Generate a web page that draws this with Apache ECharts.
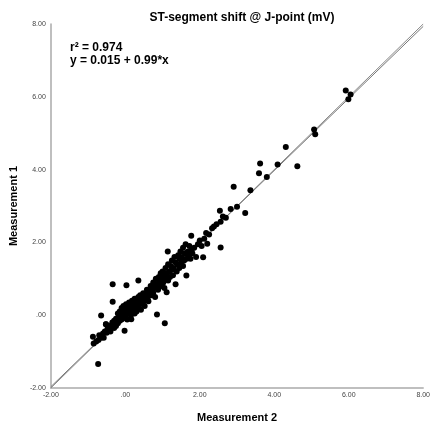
<!DOCTYPE html>
<html>
<head>
<meta charset="utf-8">
<script src="https://cdn.jsdelivr.net/npm/echarts@6/dist/echarts.min.js"></script>
<style>html,body{margin:0;padding:0;background:#fff}#c{width:433px;height:428px}</style>
</head>
<body>
<div id="c"></div>
<script>
const measurement2 = [
 -0.85,-0.78,-0.72,-0.70,-0.65,-0.60,-0.58,-0.55,-0.52,-0.50,-0.48,-0.45,-0.42,-0.40,-0.38,-0.35,-0.33,-0.30,-0.30,-0.28,
 -0.25,-0.25,-0.22,-0.20,-0.20,-0.18,-0.15,-0.15,-0.12,-0.10,-0.10,-0.08,-0.05,-0.05,-0.02,0.00,0.00,0.02,0.03,0.05,
 0.05,0.08,0.10,0.10,0.12,0.15,0.15,0.18,0.20,0.20,0.22,0.25,0.25,0.28,0.30,0.30,0.32,0.35,0.35,0.38,
 0.40,0.40,0.42,0.45,0.48,0.50,0.50,0.52,0.55,0.58,0.60,0.60,0.62,0.65,0.68,0.70,0.72,0.75,0.75,0.78,
 0.80,0.80,0.82,0.85,0.88,0.90,0.90,0.92,0.95,0.95,0.98,1.00,1.00,1.02,1.05,1.05,1.08,1.10,1.12,1.15,
 1.15,1.18,1.20,1.22,1.25,1.25,1.28,1.30,1.32,1.35,1.38,1.40,1.42,1.45,1.45,1.48,1.50,1.52,1.55,1.55,
 1.58,1.60,1.62,1.65,1.68,1.70,1.72,1.75,1.78,1.80,1.85,1.90,1.95,2.00,2.05,
 -0.34,0.03,0.35,-0.34,-0.65,-0.02,-0.73,-0.87,0.85,1.06,1.11,1.35,1.64,2.09,2.56,1.14,1.77,0.16,-0.52,
 2.20,2.17,2.33,2.38,2.56,2.62,2.83,2.54,3.22,2.91,3.36,3.80,3.59,3.62,4.09,4.62,4.31,5.07,5.10,5.92,6.05,5.99,
 2.12,2.25,2.45,2.70,3.00
];
const measurement1 = [
 -0.78,-0.72,-0.68,-0.55,-0.62,-0.50,-0.62,-0.45,-0.25,-0.48,-0.38,-0.42,-0.30,-0.45,-0.35,-0.20,-0.28,-0.35,-0.15,-0.25,
 -0.10,-0.30,-0.18,0.05,-0.22,-0.08,-0.15,0.10,-0.02,-0.12,0.20,0.05,-0.05,0.25,0.10,-0.08,0.15,0.30,0.02,0.12,
 -0.12,0.20,0.05,0.35,0.15,0.00,0.25,0.40,0.12,0.22,0.30,0.05,0.45,0.20,0.35,0.10,0.28,0.50,0.22,0.38,
 0.30,0.55,0.15,0.45,0.60,0.38,0.50,0.25,0.55,0.70,0.45,0.60,0.38,0.65,0.80,0.55,0.70,0.90,0.62,0.75,
 0.85,0.50,1.00,0.80,0.70,0.90,1.05,0.78,1.15,0.95,0.85,1.00,1.20,0.90,1.10,0.75,1.30,1.00,1.15,0.95,
 1.40,1.20,1.05,1.35,1.25,1.50,1.10,1.30,1.60,1.45,1.20,1.40,1.65,1.30,1.55,1.75,1.45,1.60,1.35,1.85,
 1.50,1.70,1.95,1.55,1.75,1.65,1.90,1.55,1.80,1.70,1.85,1.60,1.95,2.05,1.90,
 0.85,0.82,0.95,0.37,-0.01,-0.43,-1.34,-0.59,0.02,-0.22,0.63,0.85,1.09,1.59,1.86,1.75,2.18,-0.11,-0.25,
 1.96,2.26,2.39,2.44,2.57,2.71,2.92,2.87,2.81,3.53,3.43,3.80,3.90,4.17,4.14,4.09,4.62,5.10,4.97,6.17,6.06,5.93,
 2.10,2.22,2.50,2.68,2.98
];
const fitIntercept = 0.015;
const fitSlope = 0.99;
const lineX = [-2, 8];
const axisMin = -2, axisMax = 8, axisStep = 2;

const points = measurement2.map((x, i) => [x, measurement1[i]]);
const identityLine = lineX.map(x => [x, x]);
const fitLine = lineX.map(x => [x, fitIntercept + fitSlope * x]);
const fmt = v => (v === 0 ? '.00' : v.toFixed(2));
const FONT = 'Liberation Sans, Arial, sans-serif';

const chart = echarts.init(document.getElementById('c'));
chart.setOption({
  animation: false,
  grid: { left: 49, right: 6, top: 24, bottom: 30 },
  title: {
    text: 'ST-segment shift @ J-point (mV)',
    left: 237, top: 7, textAlign: 'center',
    textStyle: { fontFamily: FONT, fontSize: 12, fontWeight: 'bold', color: '#000' }
  },
  graphic: [
    { type: 'text', left: 70, top: 42, style: { text: 'r² = 0.974', font: 'bold 12px "Liberation Sans", Arial, sans-serif', fill: '#000' } },
    { type: 'text', left: 70, top: 55, style: { text: 'y = 0.015 + 0.99*x', font: 'bold 12px "Liberation Sans", Arial, sans-serif', fill: '#000' } }
  ],
  xAxis: {
    type: 'value', min: axisMin, max: axisMax, interval: axisStep,
    name: 'Measurement 2', nameLocation: 'middle', nameGap: 24,
    nameTextStyle: { fontFamily: FONT, fontSize: 11, fontWeight: 'bold', color: '#000' },
    axisLine: { show: true, onZero: false, lineStyle: { color: '#aaa', width: 1.5 } },
    axisTick: { show: false }, splitLine: { show: false },
    axisLabel: { formatter: fmt, fontSize: 7, color: '#444', margin: 4, fontFamily: FONT }
  },
  yAxis: {
    type: 'value', min: axisMin, max: axisMax, interval: axisStep,
    name: 'Measurement 1', nameLocation: 'middle', nameGap: 23, nameRotate: 90,
    nameTextStyle: { fontFamily: FONT, fontSize: 11, fontWeight: 'bold', color: '#000' },
    axisLine: { show: true, onZero: false, lineStyle: { color: '#aaa', width: 1.5 } },
    axisTick: { show: false }, splitLine: { show: false },
    axisLabel: { formatter: fmt, fontSize: 7, color: '#444', margin: 5, fontFamily: FONT }
  },
  series: [
    { type: 'line', data: identityLine, symbol: 'none', lineStyle: { color: '#888', width: 1 }, z: 1 },
    { type: 'line', data: fitLine, symbol: 'none', lineStyle: { color: '#777', width: 1 }, z: 1 },
    { type: 'scatter', data: points, symbolSize: 6, itemStyle: { color: '#000', opacity: 1 }, z: 3 }
  ]
});
</script>
</body>
</html>
